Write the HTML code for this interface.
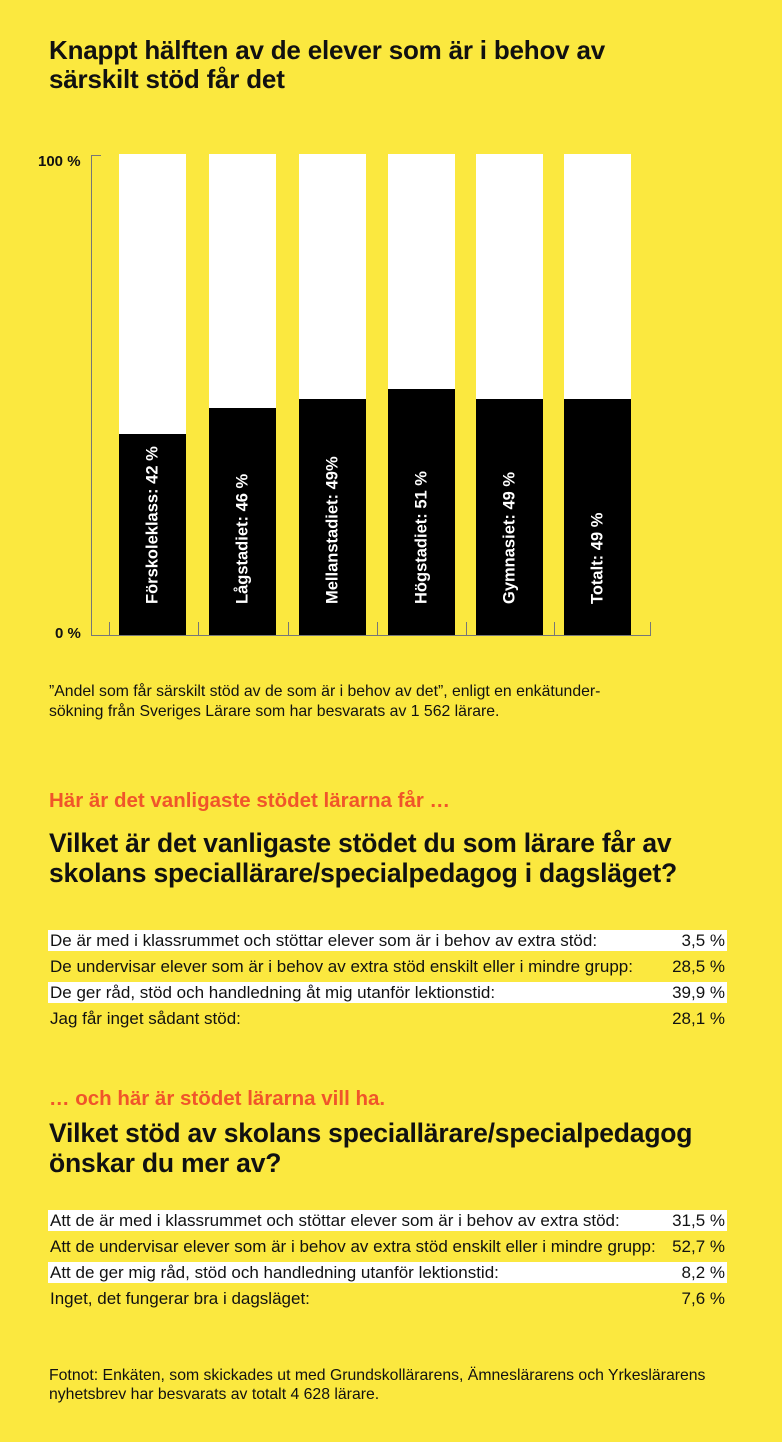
<!DOCTYPE html>
<html><head><meta charset="utf-8"><style>
body{margin:0;width:782px;height:1442px;background:#fbe83f;font-family:"Liberation Sans",sans-serif;color:#111;position:relative;overflow:hidden}
.a{position:absolute}
h1{position:absolute;margin:0;font-size:26px;font-weight:bold;line-height:29px;left:49px;top:36px;letter-spacing:-0.2px}
h2{position:absolute;margin:0;font-size:26.5px;font-weight:bold;line-height:30px;left:49px;letter-spacing:-0.2px}
.or{position:absolute;left:49px;color:#f0552a;font-weight:bold;font-size:20.5px}
.row{position:absolute;left:48px;width:679px;height:21px;font-size:17px;line-height:21px}
.row span{position:absolute;left:2px}
.row b{position:absolute;right:2px;font-weight:normal}
.w{background:#fff}
.bar{position:absolute;width:67px;top:154px;height:481px;background:#fff}
.bk{position:absolute;left:0;right:0;bottom:0;background:#000}
.lb{position:absolute;left:50%;bottom:12px;transform-origin:0 0;transform:rotate(-90deg) translateY(-50%);color:#fff;font-weight:bold;font-size:16.5px;white-space:nowrap}
</style></head><body>
<h1>Knappt hälften av de elever som är i behov av<br>särskilt stöd får det</h1>
<div class="a" style="left:38px;top:153px;font-weight:bold;font-size:15px">100 %</div>
<div class="a" style="left:55px;top:625px;font-weight:bold;font-size:15px">0 %</div>
<div class="a" style="left:91px;top:155px;width:1px;height:481px;background:#777"></div>
<div class="a" style="left:91px;top:155px;width:10px;height:1px;background:#777"></div>
<div class="a" style="left:91px;top:635px;width:560px;height:1px;background:#777"></div>
<div class="a" style="left:109px;top:622px;width:1px;height:14px;background:#777"></div>
<div class="a" style="left:198px;top:622px;width:1px;height:14px;background:#777"></div>
<div class="a" style="left:288px;top:622px;width:1px;height:14px;background:#777"></div>
<div class="a" style="left:377px;top:622px;width:1px;height:14px;background:#777"></div>
<div class="a" style="left:466px;top:622px;width:1px;height:14px;background:#777"></div>
<div class="a" style="left:554px;top:622px;width:1px;height:14px;background:#777"></div>
<div class="a" style="left:650px;top:622px;width:1px;height:14px;background:#777"></div>
<div class="bar" style="left:119px"><div class="bk" style="height:201px"><div class="lb">Förskoleklass: 42 %</div></div></div>
<div class="bar" style="left:209px"><div class="bk" style="height:227px"><div class="lb">Lågstadiet: 46 %</div></div></div>
<div class="bar" style="left:299px"><div class="bk" style="height:236px"><div class="lb">Mellanstadiet: 49%</div></div></div>
<div class="bar" style="left:388px"><div class="bk" style="height:246px"><div class="lb">Högstadiet: 51 %</div></div></div>
<div class="bar" style="left:476px"><div class="bk" style="height:236px"><div class="lb">Gymnasiet: 49 %</div></div></div>
<div class="bar" style="left:564px"><div class="bk" style="height:236px"><div class="lb">Totalt: 49 %</div></div></div>
<div class="a" style="left:49px;top:682px;font-size:15.8px;line-height:20px">”Andel som får särskilt stöd av de som är i behov av det”, enligt en enkätunder-<br>sökning från Sveriges Lärare som har besvarats av 1 562 lärare.</div>
<div class="or" style="top:789px">Här är det vanligaste stödet lärarna får …</div>
<h2 style="top:828px">Vilket är det vanligaste stödet du som lärare får av<br>skolans speciallärare/specialpedagog i dagsläget?</h2>
<div class="row w" style="top:930px"><span>De är med i klassrummet och stöttar elever som är i behov av extra stöd:</span><b>3,5 %</b></div>
<div class="row" style="top:956px"><span>De undervisar elever som är i behov av extra stöd enskilt eller i mindre grupp:</span><b>28,5 %</b></div>
<div class="row w" style="top:982px"><span>De ger råd, stöd och handledning åt mig utanför lektionstid:</span><b>39,9 %</b></div>
<div class="row" style="top:1008px"><span>Jag får inget sådant stöd:</span><b>28,1 %</b></div>
<div class="or" style="top:1087px">… och här är stödet lärarna vill ha.</div>
<h2 style="top:1118px">Vilket stöd av skolans speciallärare/specialpedagog<br>önskar du mer av?</h2>
<div class="row w" style="top:1210px"><span>Att de är med i klassrummet och stöttar elever som är i behov av extra stöd:</span><b>31,5 %</b></div>
<div class="row" style="top:1236px"><span>Att de undervisar elever som är i behov av extra stöd enskilt eller i mindre grupp:</span><b>52,7 %</b></div>
<div class="row w" style="top:1262px"><span>Att de ger mig råd, stöd och handledning utanför lektionstid:</span><b>8,2 %</b></div>
<div class="row" style="top:1288px"><span>Inget, det fungerar bra i dagsläget:</span><b>7,6 %</b></div>
<div class="a" style="left:49px;top:1366px;font-size:15.8px;line-height:19px">Fotnot: Enkäten, som skickades ut med Grundskollärarens, Ämneslärarens och Yrkeslärarens<br>nyhetsbrev har besvarats av totalt 4 628 lärare.</div>
</body></html>
